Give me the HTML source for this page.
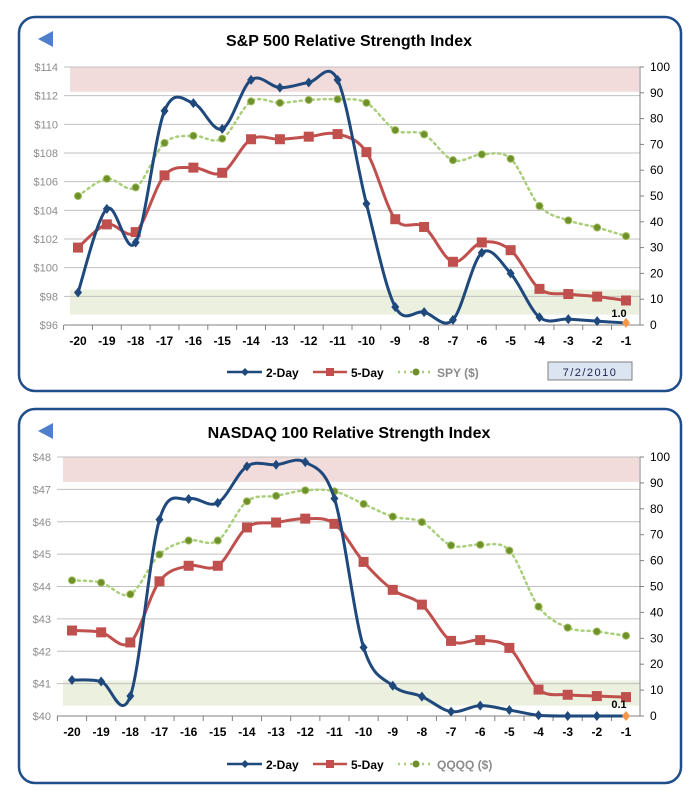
<!DOCTYPE html>
<html><head><meta charset="utf-8"><style>
body{margin:0;background:#fff;width:699px;height:800px;overflow:hidden}
svg{display:block;font-family:"Liberation Sans",sans-serif}
</style></head><body>
<svg id="s" width="699" height="800"></svg>
<script>
const days=[-20,-19,-18,-17,-16,-15,-14,-13,-12,-11,-10,-9,-8,-7,-6,-5,-4,-3,-2,-1];
const spTwoDay=[12.6,45,32,83,86,76,95,92,94,95,47,7,5,2,28,20,3,2.3,1.5,0.8];
const spFiveDay=[30,39,36,58,61,59,72,72,73,74,67,41,38,24.5,32,29,14,12,11,9.5];
const spyPrice=[105.0,106.2,105.6,108.7,109.2,109.0,111.6,111.5,111.7,111.75,111.5,109.6,109.3,107.5,107.9,107.6,104.3,103.3,102.8,102.2];
const spPriceTicks=[96,98,100,102,104,106,108,110,112,114];
const ndTwoDay=[13.9,13.3,7.7,75.8,83.8,82.3,96.4,97,98,84,26.5,11.7,7.5,1.7,4,2.3,0.3,0,0,0];
const ndFiveDay=[33,32.3,28.4,52,58,58,72.8,74.7,76.2,74.2,59.5,48.7,43,29,29.3,26.3,10.2,8.2,7.7,7.3];
const qqqqPrice=[44.19,44.12,43.76,44.99,45.42,45.42,46.63,46.8,46.97,46.94,46.55,46.16,45.99,45.27,45.29,45.11,43.38,42.73,42.61,42.48];
const ndPriceTicks=[40,41,42,43,44,45,46,47,48];
const rsiTicks=[0,10,20,30,40,50,60,70,80,90,100];

const NS="http://www.w3.org/2000/svg";
const S=document.getElementById('s');
function el(t,a,p){const e=document.createElementNS(NS,t);for(const k in a)e.setAttribute(k,a[k]);(p||S).appendChild(e);return e;}
function txt(s,a,p){const e=el('text',a,p);e.textContent=s;return e;}
function smooth(pts){let d=`M${pts[0][0]},${pts[0][1]}`;for(let i=0;i<pts.length-1;i++){const p0=pts[i-1]||pts[i],p1=pts[i],p2=pts[i+1],p3=pts[i+2]||p2;
d+=` C${p1[0]+(p2[0]-p0[0])/6},${p1[1]+(p2[1]-p0[1])/6} ${p2[0]-(p3[0]-p1[0])/6},${p2[1]-(p3[1]-p1[1])/6} ${p2[0]},${p2[1]}`;}return d;}

function chart(o){
  const g=el('g',{});
  
  
  const panel=el('rect',{x:19,y:o.top,width:662,height:374,rx:16,fill:'#fff',stroke:'#1f4e8c','stroke-width':2.5},g);
  
  const back=el('polygon',{points:`${38},${o.top+22} ${53},${o.top+14} ${53},${o.top+30}`,fill:'#4f7fc8'},g);
  
  const t=txt(o.title,{x:349,y:o.top+29,'text-anchor':'middle','font-size':16,'font-weight':'bold',fill:'#000'},g);
  
  const L=o.L,R=640,y0=o.y0,y100=o.y100;
  const X=i=>o.x0+(o.x1-o.x0)*i/(days.length-1);
  const Y=v=>y0-(y0-y100)*v/100;
  const P=v=>y0-(y0-y100)*(v-o.pt[0])/(o.pt[o.pt.length-1]-o.pt[0]);
  let b=el('rect',{x:L+6,y:Y(100),width:R-L-7,height:Y(90.4)-Y(100),fill:'#f2dcdb'},g);
  
  b=el('rect',{x:L+6,y:Y(13.7),width:R-L-7,height:Y(4)-Y(13.7),fill:'#ebf1de'},g);
  
  o.pt.forEach(v=>{const y=P(v);el('line',{x1:L,x2:R,y1:y,y2:y,stroke:'#c0c0c0','stroke-width':1},g);
    const lt=txt('$'+v,{x:L-6,y:y+4,'text-anchor':'end','font-size':11,fill:'#8c8c8c'},g);
    });
  el('line',{x1:R,x2:R,y1:y100,y2:y0,stroke:'#808080'},g);
  el('line',{x1:L,x2:R,y1:y0,y2:y0,stroke:'#808080'},g);
  rsiTicks.forEach(v=>{const y=Y(v);el('line',{x1:R,x2:R+4,y1:y,y2:y,stroke:'#808080'},g);
    const rt=txt(v,{x:R+10,y:y+4,'font-size':12,fill:'#000'},g);
    });
  const step=(o.x1-o.x0)/(days.length-1);
  days.forEach((d,i)=>{const x=X(i);el('line',{x1:x-step/2,x2:x-step/2,y1:y0,y2:y0+5,stroke:'#808080'},g);
    const xt=txt(d,{x:x,y:y0+20,'text-anchor':'middle','font-size':12,'font-weight':'bold',fill:'#000'},g);
    });
  const gp=o.price.map((v,i)=>[X(i),P(v)]);
  const pl=el('path',{d:smooth(gp),fill:'none',stroke:'#a9cf7a','stroke-width':2.5,'stroke-dasharray':'2 4','stroke-linecap':'round'},g);
  
  gp.forEach(p=>{const c=el('circle',{cx:p[0],cy:p[1],r:3.5,fill:'#6f8f2a',stroke:'#9bbb59'},g);
    });
  const rp=o.five.map((v,i)=>[X(i),Y(v)]);
  const rl=el('path',{d:smooth(rp),fill:'none',stroke:'#c0504d','stroke-width':3},g);
  
  rp.forEach(p=>{const r=el('rect',{x:p[0]-5,y:p[1]-5,width:10,height:10,fill:'#c0504d'},g);
    });
  const bp=o.two.map((v,i)=>[X(i),Y(v)]);
  const bl=el('path',{d:smooth(bp),fill:'none',stroke:'#1f497d','stroke-width':3},g);
  
  bp.forEach((p,i)=>{const last=i===bp.length-1;const m=el('polygon',{points:`${p[0]},${p[1]-5} ${p[0]+4},${p[1]} ${p[0]},${p[1]+5} ${p[0]-4},${p[1]}`,fill:last?'#f79646':'#1f497d'},g);
    });
  const lab=txt(o.lastLabel,{x:X(19)-7,y:y0-8,'text-anchor':'middle','font-size':11,'font-weight':'bold',fill:'#000'},g);
  
  const ly=o.top+355;
  let lg=el('g',{},g);
  el('line',{x1:227,x2:262,y1:ly,y2:ly,stroke:'#1f497d','stroke-width':2.5},lg);
  el('polygon',{points:`245,${ly-4} 249,${ly} 245,${ly+4} 241,${ly}`,fill:'#1f497d'},lg);
  txt('2-Day',{x:266,y:ly+5,'font-size':12,'font-weight':'bold'},lg);
  lg=el('g',{},g);
  el('line',{x1:313,x2:347,y1:ly,y2:ly,stroke:'#c0504d','stroke-width':2.5},lg);
  el('rect',{x:326,y:ly-4,width:8,height:8,fill:'#c0504d'},lg);
  txt('5-Day',{x:351,y:ly+5,'font-size':12,'font-weight':'bold'},lg);
  lg=el('g',{},g);
  el('line',{x1:398,x2:430,y1:ly,y2:ly,stroke:'#a9cf7a','stroke-width':2.5,'stroke-dasharray':'2 4'},lg);
  el('circle',{cx:416,cy:ly,r:3.5,fill:'#6f8f2a'},lg);
  txt(o.priceName,{x:437,y:ly+5,'font-size':12,'font-weight':'bold',fill:'#8c8c8c'},lg);
  if(o.date){const db=el('g',{},g);
    el('rect',{x:548,y:ly-10,width:84,height:18,fill:'#dbe5f1',stroke:'#7f7f7f'},db);
    txt(o.date,{x:590,y:ly+4,'text-anchor':'middle','font-size':11,'letter-spacing':'1.5',fill:'#1f1f4f'},db);}
}
chart({name:'sp500-rsi-chart',title:'S&P 500 Relative Strength Index',top:17,L:64,x0:78,x1:626,y0:325,y100:67,pt:spPriceTicks,price:spyPrice,two:spTwoDay,five:spFiveDay,priceName:'SPY ($)',lastLabel:'1.0',date:'7/2/2010'});
chart({name:'nasdaq100-rsi-chart',title:'NASDAQ 100 Relative Strength Index',top:409,L:57,x0:72,x1:626,y0:716,y100:457,pt:ndPriceTicks,price:qqqqPrice,two:ndTwoDay,five:ndFiveDay,priceName:'QQQQ ($)',lastLabel:'0.1',date:null});
</script>
</body></html>
